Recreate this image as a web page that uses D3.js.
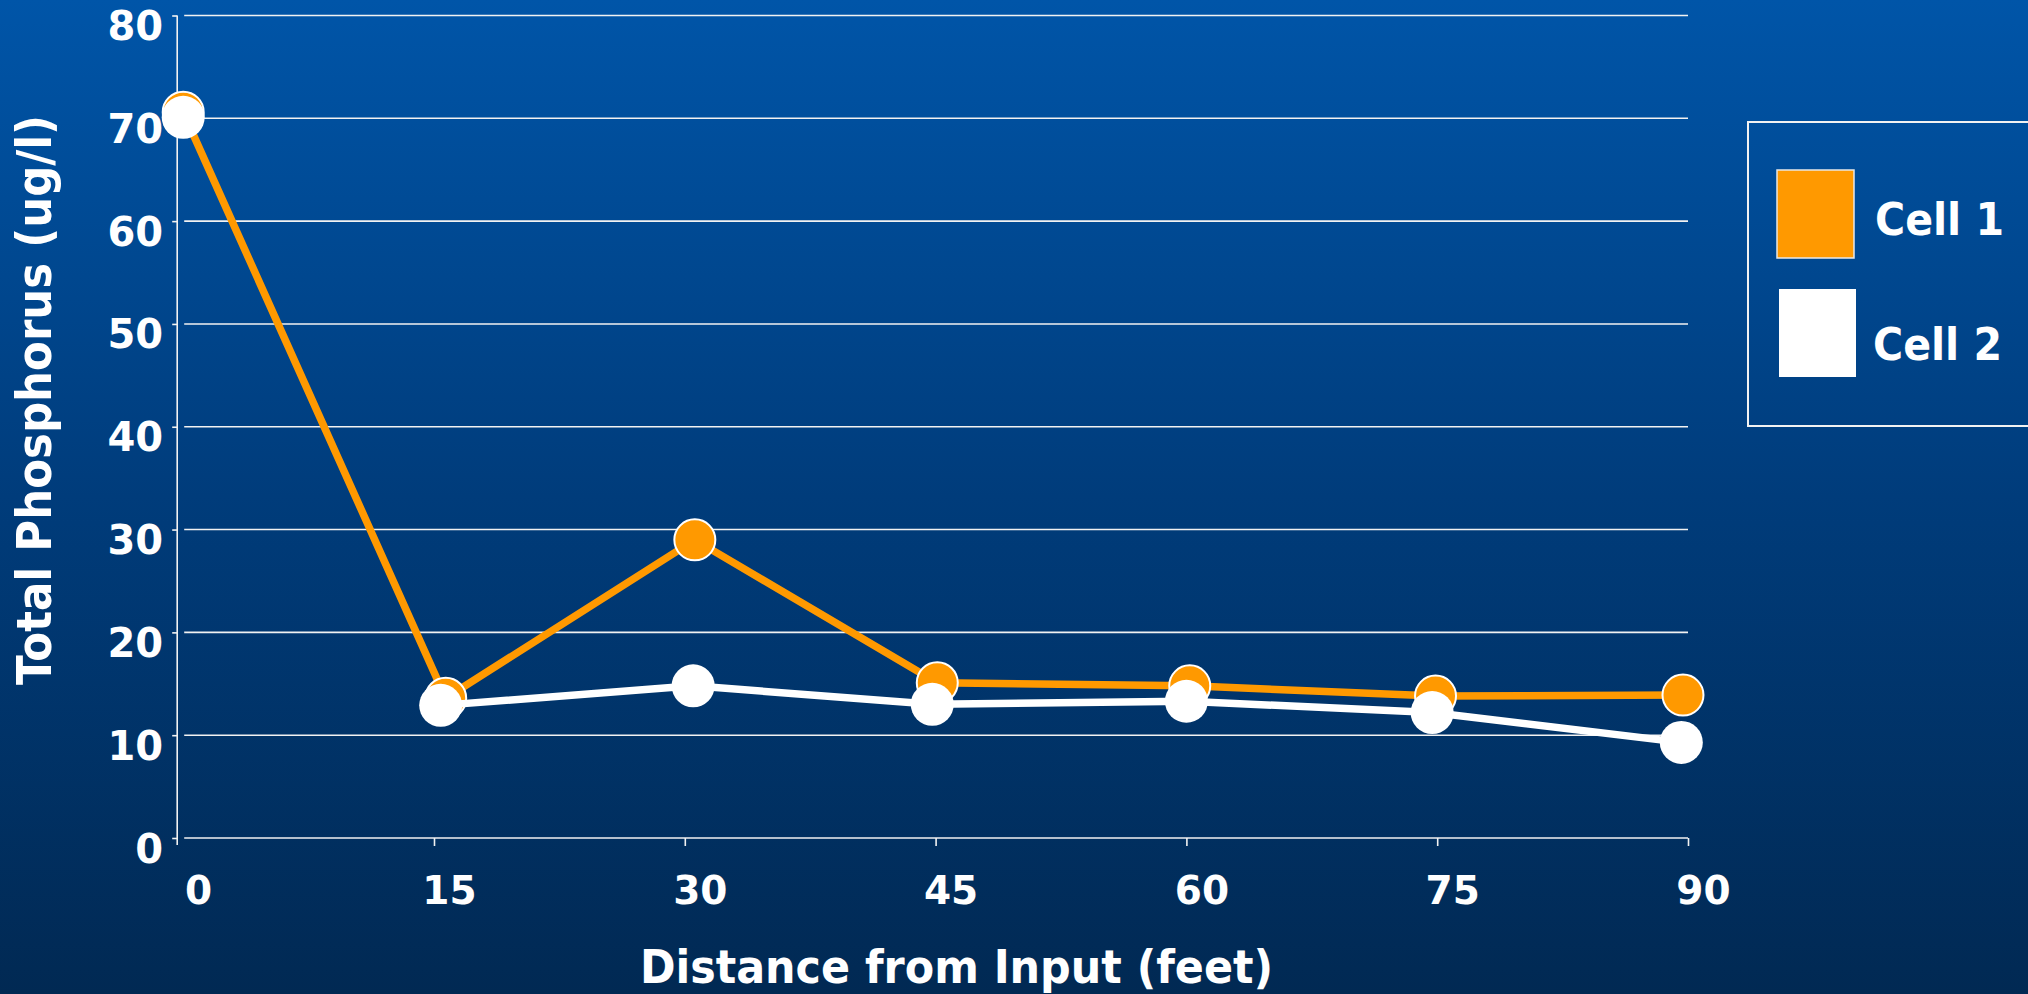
<!DOCTYPE html>
<html>
<head>
<meta charset="utf-8">
<script src="https://cdn.jsdelivr.net/npm/d3@7/dist/d3.min.js"></script>
<style>
  html, body { margin: 0; padding: 0; overflow: hidden; background: #012955; }
  svg { display: block; }
  text { font-family: "DejaVu Sans Condensed", "DejaVu Sans", Verdana, sans-serif; font-weight: bold; fill: #ffffff; }
  .tick text { font-family: "DejaVu Sans", Verdana, sans-serif; }
</style>
</head>
<body>
<svg id="chart" width="2028" height="994"></svg>
<script>
// Tick values for both axes
const distanceTicks = [0, 15, 30, 45, 60, 75, 90];
const phosphorusTicks = [0, 10, 20, 30, 40, 50, 60, 70, 80];

// Series: sampling distance (feet) and total phosphorus (ug/l)
const seriesNames = ["Cell 1", "Cell 2"];
const cell1Distance = [0, 15.7, 30.6, 45.1, 60.2, 74.9, 89.7];
const cell1Phosphorus = [70.6, 13.6, 29.0, 15.1, 14.8, 13.8, 13.9];
const cell2Distance = [0, 15.4, 30.5, 44.8, 60.0, 74.7, 89.6];
const cell2Phosphorus = [70.1, 12.9, 14.8, 13.0, 13.3, 12.2, 9.3];
// The Cell 2 trace is only joined from the 15 ft station onward
const cell2LineStart = 1;

const W = 2028, H = 994;
const svg = d3.select("#chart");

// Background gradient
const defs = svg.append("defs");
const grad = defs.append("linearGradient")
  .attr("id", "bg").attr("x1", 0).attr("y1", 0).attr("x2", 0).attr("y2", 1);
grad.append("stop").attr("offset", "0%").attr("stop-color", "#0055a8");
grad.append("stop").attr("offset", "50%").attr("stop-color", "#003c7b");
grad.append("stop").attr("offset", "100%").attr("stop-color", "#012953");
svg.append("rect").attr("width", W).attr("height", H).attr("fill", "url(#bg)");

const x = d3.scaleLinear().domain([0, 90]).range([183.2, 1688]);
const y = d3.scaleLinear().domain([0, 80]).range([838, 15.5]);

// Horizontal gridlines
svg.append("g").selectAll("line")
  .data(phosphorusTicks)
  .join("line")
  .attr("x1", x(0) + 1)
  .attr("x2", x(90))
  .attr("y1", d => y(d))
  .attr("y2", d => y(d))
  .attr("stroke", "#f2f2f2")
  .attr("stroke-width", 1.6);

// Y axis, set slightly left of the plot area
const axisX = x(0) - 6;
const yAxis = svg.append("g")
  .attr("transform", `translate(${axisX},0)`)
  .call(d3.axisLeft(y).tickValues(phosphorusTicks).tickSize(5).tickPadding(9).tickSizeOuter(0));
yAxis.select(".domain").remove();
yAxis.selectAll(".tick line").attr("stroke", "#f2f2f2").attr("stroke-width", 1.6);
yAxis.selectAll(".tick text")
  .attr("dy", null).attr("y", 24)
  .attr("fill", "#ffffff")
  .style("font-size", "40px");
yAxis.append("line")
  .attr("x1", 0).attr("x2", 0)
  .attr("y1", y(80)).attr("y2", y(0) + 7)
  .attr("stroke", "#f2f2f2").attr("stroke-width", 1.6);

// X axis ticks along the zero line
const xAxis = svg.append("g")
  .attr("transform", `translate(0,${y(0)})`)
  .call(d3.axisBottom(x).tickValues(distanceTicks).tickSize(8).tickSizeOuter(0));
xAxis.select(".domain").remove();
xAxis.selectAll(".tick line")
  .attr("stroke", "#f2f2f2").attr("stroke-width", 1.6)
  .attr("display", d => d === 0 ? "none" : null);
xAxis.selectAll(".tick text")
  .attr("dy", null).attr("y", 66).attr("dx", 15)
  .attr("fill", "#ffffff")
  .style("font-size", "39px");

// Axis titles
svg.append("text")
  .attr("x", 956.5).attr("y", 983)
  .attr("text-anchor", "middle")
  .attr("textLength", 633).attr("lengthAdjust", "spacingAndGlyphs")
  .style("font-size", "46px")
  .text("Distance from Input (feet)");

svg.append("text")
  .attr("transform", "translate(51,400) rotate(-90)")
  .attr("text-anchor", "middle")
  .attr("textLength", 570).attr("lengthAdjust", "spacingAndGlyphs")
  .style("font-size", "48px")
  .text("Total Phosphorus (ug/l)");

// Series lines and markers
const cell1 = cell1Distance.map((d, i) => ({ d, v: cell1Phosphorus[i] }));
const cell2 = cell2Distance.map((d, i) => ({ d, v: cell2Phosphorus[i] }));
const line = d3.line().x(p => x(p.d)).y(p => y(p.v));

svg.append("path")
  .datum(cell1)
  .attr("d", line)
  .attr("fill", "none")
  .attr("stroke", "#ff9900")
  .attr("stroke-width", 7.5);
svg.append("g").selectAll("circle")
  .data(cell1)
  .join("circle")
  .attr("cx", p => x(p.d))
  .attr("cy", p => y(p.v))
  .attr("r", 20.5)
  .attr("fill", "#ff9900")
  .attr("stroke", "#ffffff")
  .attr("stroke-width", 2);

svg.append("path")
  .datum(cell2.slice(cell2LineStart))
  .attr("d", line)
  .attr("fill", "none")
  .attr("stroke", "#ffffff")
  .attr("stroke-width", 7.5);
svg.append("g").selectAll("circle")
  .data(cell2)
  .join("circle")
  .attr("cx", p => x(p.d))
  .attr("cy", p => y(p.v))
  .attr("r", 21.5)
  .attr("fill", "#ffffff");

// Legend
const legend = svg.append("g");
legend.append("rect")
  .attr("x", 1748).attr("y", 122)
  .attr("width", 400).attr("height", 304)
  .attr("fill", "none")
  .attr("stroke", "#f2f2f2").attr("stroke-width", 2);
const swatchColors = ["#ff9900", "#ffffff"];
const legendRows = [
  { sx: 1777, sy: 170, tx: 1875, ty: 235 },
  { sx: 1779, sy: 289, tx: 1873, ty: 360 }
];
seriesNames.forEach((name, i) => {
  const r = legendRows[i];
  legend.append("rect")
    .attr("x", r.sx).attr("y", r.sy)
    .attr("width", 77).attr("height", 88)
    .attr("fill", swatchColors[i])
    .attr("stroke", i === 0 ? "#e8e8e8" : "none")
    .attr("stroke-width", 1.5);
  legend.append("text")
    .attr("x", r.tx).attr("y", r.ty)
    .attr("textLength", 129).attr("lengthAdjust", "spacingAndGlyphs")
    .style("font-size", "45px")
    .text(name);
});
</script>
</body>
</html>
